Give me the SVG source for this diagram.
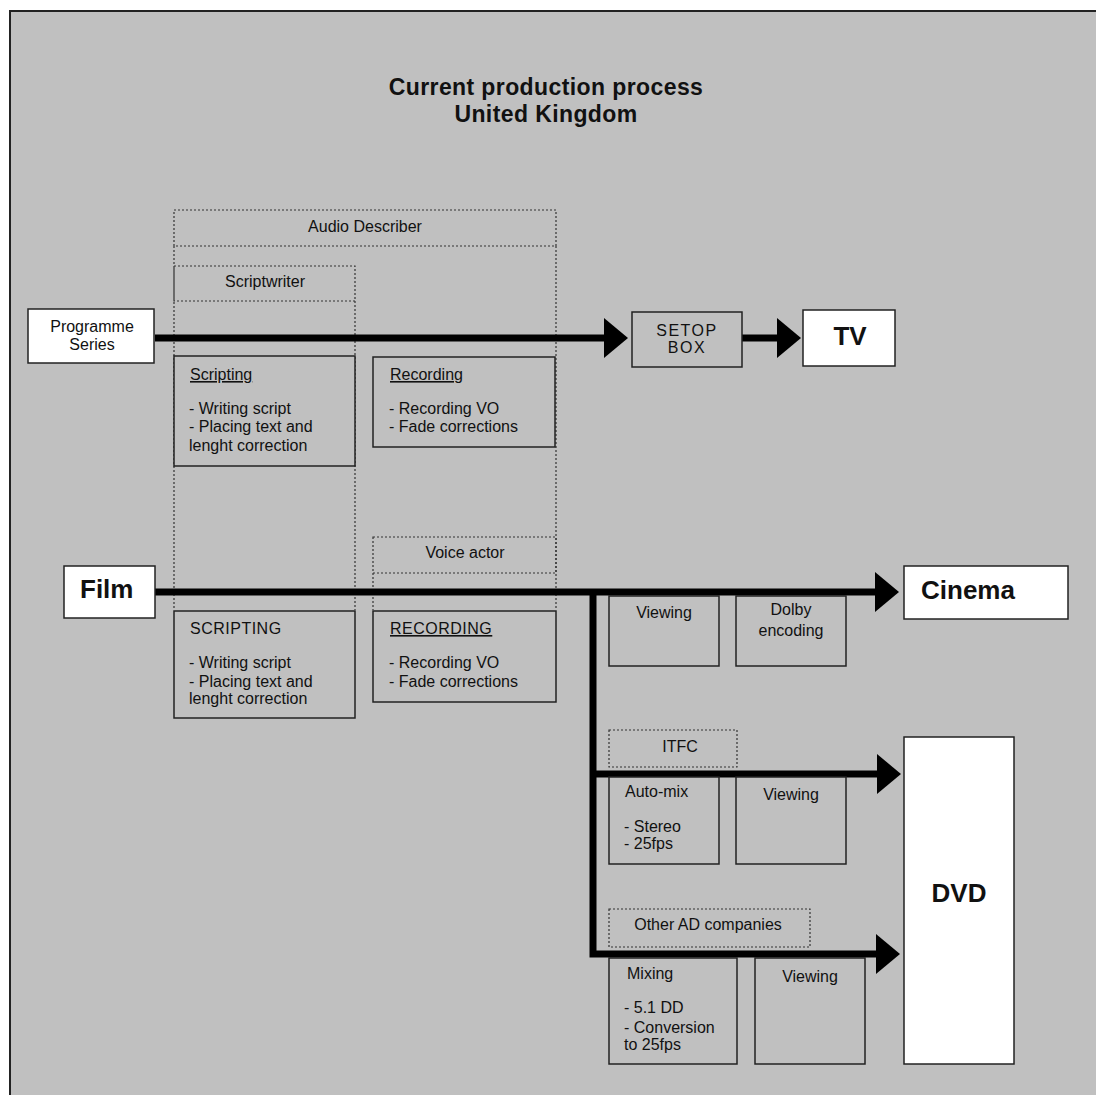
<svg xmlns="http://www.w3.org/2000/svg" width="1096" height="1095" viewBox="0 0 1096 1095">
<style>
text{font-family:"Liberation Sans",Arial,sans-serif;fill:#111}
.t{font-size:16px}
.c{text-anchor:middle}
.b{font-weight:bold;font-size:26px}
.title{font-weight:bold;font-size:23px;text-anchor:middle;letter-spacing:0.4px}
.u{text-decoration:underline}
.box{fill:#c0c0c0;stroke:#222;stroke-width:1.5}
.wbox{fill:#fff;stroke:#222;stroke-width:1.5}
.dot{fill:none;stroke:#333;stroke-width:1.2;stroke-dasharray:2 2}
.flow{fill:none;stroke:#000;stroke-width:7;marker-end:url(#ah)}
</style>
<defs>
<marker id="ah" markerUnits="userSpaceOnUse" markerWidth="24" markerHeight="40" viewBox="0 0 24 40" refX="1" refY="20" orient="auto">
<path d="M0,0 L24,20 L0,40 z" fill="#000"/>
</marker>
</defs>
<rect x="0" y="0" width="1096" height="1095" fill="#fff"/>
<rect x="10" y="11" width="1100" height="1100" fill="#c0c0c0" stroke="#222" stroke-width="2"/>
<g id="title">
<text class="title" x="546" y="95">Current production process</text>
<text class="title" x="546" y="122">United Kingdom</text>
</g>
<g id="audio-describer">
<rect class="dot" x="174" y="210" width="382" height="36"/>
<line class="dot" x1="174" y1="246" x2="174" y2="610"/>
<line class="dot" x1="556" y1="246" x2="556" y2="610"/>
<text class="t c" x="365" y="232">Audio Describer</text>
</g>
<g id="scriptwriter">
<rect class="dot" x="174" y="266" width="181" height="35"/>
<line class="dot" x1="355" y1="301" x2="355" y2="610"/>
<text class="t c" x="265" y="287">Scriptwriter</text>
</g>
<g id="voice-actor">
<rect class="dot" x="373" y="537" width="183" height="36"/>
<line class="dot" x1="373" y1="573" x2="373" y2="610"/>
<text class="t c" x="465" y="558">Voice actor</text>
</g>
<g id="connectors">
<path class="flow" d="M155,338 H605"/>
<path class="flow" d="M742,338 H778"/>
<path class="flow" d="M155,592 H876"/>
<path class="flow" d="M593,592 V954 H877"/>
<path class="flow" d="M593,774 H878"/>
</g>
<g id="programme-series">
<rect class="wbox" x="28" y="309" width="126" height="54"/>
<text class="t c" x="92" y="332">Programme</text>
<text class="t c" x="92" y="350">Series</text>
</g>
<g id="scripting-tv">
<rect class="box" x="174" y="356" width="181" height="110"/>
<text class="t u" x="190" y="380">Scripting</text>
<text class="t" x="189" y="414">- Writing script</text>
<text class="t" x="189" y="432">-  Placing text and</text>
<text class="t" x="189" y="451">lenght  correction</text>
</g>
<g id="recording-tv">
<rect class="box" x="373" y="357" width="182" height="90"/>
<text class="t u" x="390" y="380">Recording</text>
<text class="t" x="389" y="414">- Recording VO</text>
<text class="t" x="389" y="432">- Fade corrections</text>
</g>
<g id="setop-box">
<rect class="box" x="632" y="312" width="110" height="55"/>
<text class="t c" x="687" y="336" letter-spacing="1.5">SETOP</text>
<text class="t c" x="687" y="353" letter-spacing="1.5">BOX</text>
</g>
<g id="tv">
<rect class="wbox" x="803" y="310" width="92" height="56"/>
<text class="b c" x="850" y="345">TV</text>
</g>
<g id="film">
<rect class="wbox" x="64" y="566" width="91" height="52"/>
<text class="b" x="80" y="598">Film</text>
</g>
<g id="cinema">
<rect class="wbox" x="904" y="566" width="164" height="53"/>
<text class="b" x="921" y="599">Cinema</text>
</g>
<g id="scripting-film">
<rect class="box" x="174" y="611" width="181" height="107"/>
<text class="t" x="190" y="634" letter-spacing="0.5">SCRIPTING</text>
<text class="t" x="189" y="668">- Writing script</text>
<text class="t" x="189" y="687">-  Placing text and</text>
<text class="t" x="189" y="704">lenght  correction</text>
</g>
<g id="recording-film">
<rect class="box" x="373" y="611" width="183" height="91"/>
<text class="t u" x="390" y="634" letter-spacing="0.5">RECORDING</text>
<text class="t" x="389" y="668">- Recording VO</text>
<text class="t" x="389" y="687">- Fade corrections</text>
</g>
<g id="viewing-cinema">
<rect class="box" x="609" y="596" width="110" height="70"/>
<text class="t c" x="664" y="618">Viewing</text>
</g>
<g id="dolby-encoding">
<rect class="box" x="736" y="596" width="110" height="70"/>
<text class="t c" x="791" y="615">Dolby</text>
<text class="t c" x="791" y="636">encoding</text>
</g>
<g id="itfc">
<rect class="dot" x="609" y="730" width="128" height="37"/>
<text class="t c" x="680" y="752">ITFC</text>
</g>
<g id="auto-mix">
<rect class="box" x="609" y="777" width="110" height="87"/>
<text class="t" x="625" y="797">Auto-mix</text>
<text class="t" x="624" y="832">-  Stereo</text>
<text class="t" x="624" y="849">- 25fps</text>
</g>
<g id="viewing-itfc">
<rect class="box" x="736" y="777" width="110" height="87"/>
<text class="t c" x="791" y="800">Viewing</text>
</g>
<g id="other-ad">
<rect class="dot" x="609" y="909" width="201" height="38"/>
<text class="t c" x="708" y="930">Other AD companies</text>
</g>
<g id="mixing">
<rect class="box" x="609" y="958" width="128" height="106"/>
<text class="t" x="627" y="979">Mixing</text>
<text class="t" x="624" y="1013">- 5.1 DD</text>
<text class="t" x="624" y="1033">- Conversion</text>
<text class="t" x="624" y="1050">to  25fps</text>
</g>
<g id="viewing-other">
<rect class="box" x="755" y="958" width="110" height="106"/>
<text class="t c" x="810" y="982">Viewing</text>
</g>
<g id="dvd">
<rect class="wbox" x="904" y="737" width="110" height="327"/>
<text class="b c" x="959" y="902">DVD</text>
</g>
</svg>
